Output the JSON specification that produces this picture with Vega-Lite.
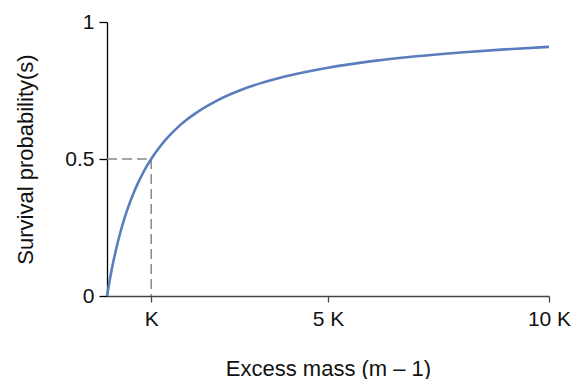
{
  "$schema": "https://vega.github.io/schema/vega-lite/v6.json",
  "width": 442,
  "height": 274,
  "autosize": "none",
  "padding": {"left": 107, "top": 22, "right": 27, "bottom": 83},
  "background": "white",
  "config": {
    "view": {"stroke": null},
    "font": "Liberation Sans"
  },
  "datasets": {
    "curve": [
      {"x": 0, "s": 0}, {"x": 0.05, "s": 0.0476}, {"x": 0.1, "s": 0.0909}, {"x": 0.15, "s": 0.1304},
      {"x": 0.2, "s": 0.1667}, {"x": 0.3, "s": 0.2308}, {"x": 0.4, "s": 0.2857}, {"x": 0.5, "s": 0.3333},
      {"x": 0.6, "s": 0.375}, {"x": 0.7, "s": 0.4118}, {"x": 0.8, "s": 0.4444}, {"x": 0.9, "s": 0.4737},
      {"x": 1, "s": 0.5}, {"x": 1.2, "s": 0.5455}, {"x": 1.4, "s": 0.5833}, {"x": 1.6, "s": 0.6154},
      {"x": 1.8, "s": 0.6429}, {"x": 2, "s": 0.6667}, {"x": 2.5, "s": 0.7143}, {"x": 3, "s": 0.75},
      {"x": 3.5, "s": 0.7778}, {"x": 4, "s": 0.8}, {"x": 5, "s": 0.8333}, {"x": 6, "s": 0.8571},
      {"x": 7, "s": 0.875}, {"x": 8, "s": 0.8889}, {"x": 9, "s": 0.9}, {"x": 10, "s": 0.9091}
    ],
    "guides": [
      {"x": 0, "x2": 1, "y": 0.5, "y2": 0.5},
      {"x": 1, "x2": 1, "y": 0.5, "y2": 0}
    ]
  },
  "layer": [
    {
      "data": {"name": "guides"},
      "mark": {"type": "rule", "color": "#888888", "strokeWidth": 1.5, "strokeDash": [10, 5]},
      "encoding": {
        "x": {"field": "x", "type": "quantitative", "scale": {"domain": [0, 10], "nice": false},
          "axis": {"values": [1, 5, 10], "labelExpr": "datum.value == 1 ? 'K' : datum.value + ' K'", "grid": false,
            "labelFlush": false, "labelOverlap": false,
            "labelFont": "Liberation Sans", "labelFontSize": 21, "labelColor": "#111", "labelPadding": 6,
            "title": "Excess mass (m – 1)", "titleFont": "Liberation Sans", "titleFontSize": 22, "titleFontWeight": "normal", "titleColor": "#111",
            "titleX": 221, "titleY": 72, "titleBaseline": "middle", "titleAlign": "center",
            "domainColor": "#444", "tickColor": "#444", "domainWidth": 1.3, "tickWidth": 1.3, "tickSize": 6}},
        "x2": {"field": "x2"},
        "y": {"field": "y", "type": "quantitative", "scale": {"domain": [0, 1], "nice": false},
          "axis": {"values": [0, 0.5, 1], "labelExpr": "datum.value == 0.5 ? '0.5' : datum.value + ''", "grid": false,
            "labelFlush": false, "labelOverlap": false,
            "labelFont": "Liberation Sans", "labelFontSize": 21, "labelColor": "#111", "labelPadding": 5,
            "title": "Survival probability(s)", "titleFont": "Liberation Sans", "titleFontSize": 22, "titleFontWeight": "normal", "titleColor": "#111",
            "titleX": -82, "titleY": 137, "titleAngle": -90, "titleAlign": "center", "titleBaseline": "middle",
            "domainColor": "#000", "tickColor": "#000", "domainWidth": 1.3, "tickWidth": 1.3, "tickSize": 8}},
        "y2": {"field": "y2"}
      }
    },
    {
      "data": {"name": "curve"},
      "mark": {"type": "line", "color": "#5a7dbd", "strokeWidth": 2.6, "interpolate": "monotone"},
      "encoding": {
        "x": {"field": "x", "type": "quantitative"},
        "y": {"field": "s", "type": "quantitative"}
      }
    }
  ]
}
